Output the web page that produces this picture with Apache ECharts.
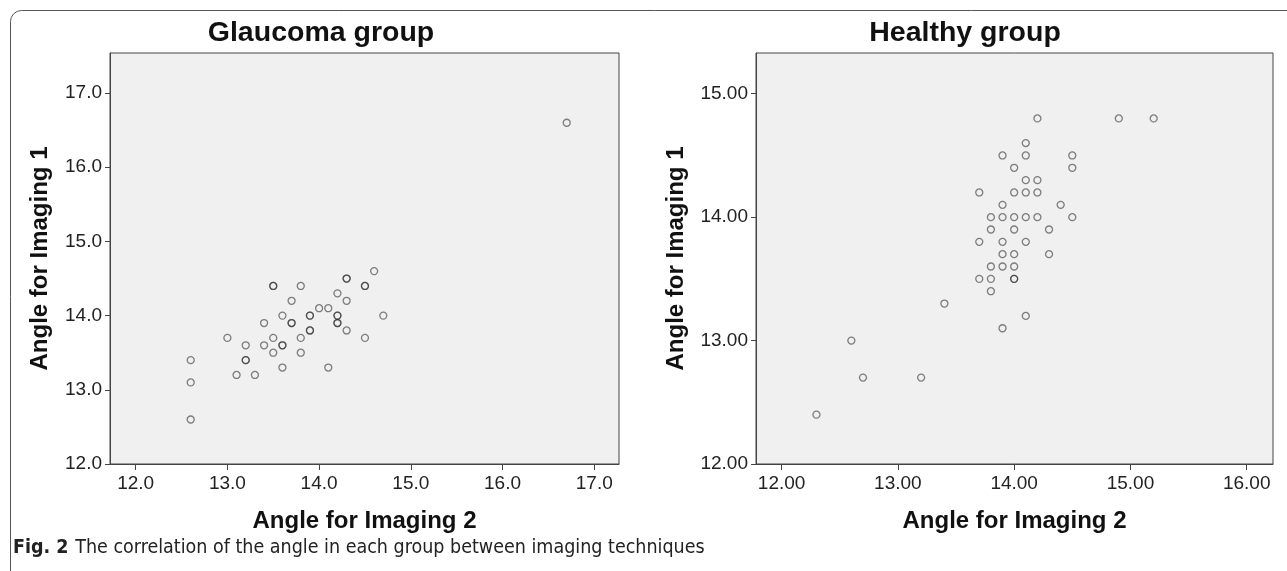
<!DOCTYPE html>
<html>
<head>
<meta charset="utf-8">
<script src="https://cdn.jsdelivr.net/npm/echarts@6/dist/echarts.min.js"></script>
<style>
html,body{margin:0;padding:0;background:#fff;}
#chart{width:1287px;height:571px;}
</style>
</head>
<body>
<div id="chart"></div>
<script>
// Glaucoma group: [Angle for Imaging 2, Angle for Imaging 1]
var glaucomaX = [16.7,14.6,14.3,14.3,13.5,13.5,13.8,14.5,14.5,14.2,13.7,14.3,14.0,14.1,13.6,13.9,13.9,14.2,14.2,14.7,13.4,13.7,13.7,14.2,14.2,13.9,13.9,14.3,13.0,13.5,13.8,14.5,13.2,13.4,13.6,13.6,13.5,13.8,12.6,13.2,13.2,13.6,14.1,13.1,13.3,12.6,12.6];
var glaucomaY = [16.6,14.6,14.5,14.5,14.4,14.4,14.4,14.4,14.4,14.3,14.2,14.2,14.1,14.1,14.0,14.0,14.0,14.0,14.0,14.0,13.9,13.9,13.9,13.9,13.9,13.8,13.8,13.8,13.7,13.7,13.7,13.7,13.6,13.6,13.6,13.6,13.5,13.5,13.4,13.4,13.4,13.3,13.3,13.2,13.2,13.1,12.6];
// Healthy group
var healthyX = [14.2,14.9,15.2,14.1,13.9,14.1,14.5,14.0,14.5,14.1,14.2,13.7,14.0,14.1,14.2,13.9,14.4,13.8,13.9,14.0,14.1,14.2,14.5,13.8,14.0,14.3,13.7,13.9,14.1,13.9,14.0,14.3,13.8,13.9,14.0,13.7,13.8,14.0,14.0,13.8,13.4,14.1,13.9,12.6,12.7,13.2,12.3];
var healthyY = [14.8,14.8,14.8,14.6,14.5,14.5,14.5,14.4,14.4,14.3,14.3,14.2,14.2,14.2,14.2,14.1,14.1,14.0,14.0,14.0,14.0,14.0,14.0,13.9,13.9,13.9,13.8,13.8,13.8,13.7,13.7,13.7,13.6,13.6,13.6,13.5,13.5,13.5,13.5,13.4,13.3,13.2,13.1,13.0,12.7,12.7,12.4];

var glaucomaXTicks = [12,13,14,15,16,17];
var glaucomaYTicks = [12,13,14,15,16,17];
var healthyXTicks = [12,13,14,15,16];
var healthyYTicks = [12,13,14,15];

var titles = ['Glaucoma group','Healthy group'];
var xName = 'Angle for Imaging 2';
var yName = 'Angle for Imaging 1';
var captionBold = 'Fig. 2';
var captionText = 'The correlation of the angle in each group between imaging techniques';

function pairs(xs, ys){ return xs.map(function(x,i){ return [x, ys[i]]; }); }

var FONT = 'Liberation Sans, Arial, sans-serif';
var axisColor = '#444';

function xAxisDef(idx, min, max, ticks, dec){
  return {
    type:'value', gridIndex: idx, min:min, max:max,
    name: xName, nameLocation:'middle', nameGap:45,
    nameTextStyle:{fontFamily:FONT, fontSize:24, fontWeight:'bold', color:'#111'},
    axisLine:{show:true, onZero:false, lineStyle:{color:axisColor, width:1}},
    axisTick:{show:true, length:6, customValues: ticks, lineStyle:{color:axisColor}},
    axisLabel:{show:true, customValues: ticks, margin:10, fontFamily:FONT, fontSize:19, color:'#222',
      formatter:function(v){ return Number(v).toFixed(dec); }},
    splitLine:{show:false}
  };
}
function yAxisDef(idx, min, max, ticks, dec, gap){
  return {
    type:'value', gridIndex: idx, min:min, max:max,
    name: yName, nameLocation:'middle', nameGap:gap,
    nameTextStyle:{fontFamily:FONT, fontSize:24, fontWeight:'bold', color:'#111'},
    axisLine:{show:true, onZero:false, lineStyle:{color:axisColor, width:1}},
    axisTick:{show:true, length:5, customValues: ticks, lineStyle:{color:axisColor}},
    axisLabel:{show:true, customValues: ticks, margin:8, fontFamily:FONT, fontSize:19, color:'#222',
      formatter:function(v){ return Number(v).toFixed(dec); }},
    splitLine:{show:false}
  };
}
function scatter(idx, xs, ys){
  return {
    type:'scatter', xAxisIndex:idx, yAxisIndex:idx,
    data: pairs(xs, ys), symbol:'circle', symbolSize:7,
    itemStyle:{color:'rgba(0,0,0,0)', borderColor:'rgba(40,40,40,0.72)', borderWidth:1.3},
    emphasis:{disabled:true}, silent:true
  };
}

var chart = echarts.init(document.getElementById('chart'), null, {renderer:'canvas'});
chart.setOption({
  backgroundColor:'#ffffff',
  animation:false,
  title:[
    {text:titles[0], left:316, top:14, textAlign:'center', textStyle:{fontFamily:FONT, fontSize:28.5, fontWeight:'bold', color:'#111'}},
    {text:titles[1], left:960, top:14, textAlign:'center', textStyle:{fontFamily:FONT, fontSize:28.5, fontWeight:'bold', color:'#111'}}
  ],
  grid:[
    {left:110, top:53, width:509, height:411, show:true, backgroundColor:'#f0f0f0', borderColor:axisColor, borderWidth:1},
    {left:756, top:53, width:517, height:411, show:true, backgroundColor:'#f0f0f0', borderColor:axisColor, borderWidth:1}
  ],
  xAxis:[
    xAxisDef(0, 11.72, 17.27, glaucomaXTicks, 1),
    xAxisDef(1, 11.78, 16.226, healthyXTicks, 2)
  ],
  yAxis:[
    yAxisDef(0, 12, 17.54, glaucomaYTicks, 1, 58),
    yAxisDef(1, 12, 15.33, healthyYTicks, 2, 68)
  ],
  series:[
    scatter(0, glaucomaX, glaucomaY),
    scatter(1, healthyX, healthyY)
  ],
  graphic:[
    {type:'rect', silent:true, z:-1, shape:{x:10.5, y:10.5, width:1400, height:700, r:[11,0,0,0]},
      style:{fill:'none', stroke:'#555', lineWidth:1}},
    {type:'text', left:13, top:538, silent:true,
      style:{text:'{b|'+captionBold+'}  {r|'+captionText+'}',
        rich:{
          b:{fontFamily:'Liberation Sans Narrow, DejaVu Sans Condensed, sans-serif', fontSize:19.5, fontWeight:'bold', fill:'#222'},
          r:{fontFamily:'Liberation Sans Narrow, DejaVu Sans Condensed, sans-serif', fontSize:19.5, fill:'#222'}
        }}}
  ]
});
</script>
</body>
</html>
